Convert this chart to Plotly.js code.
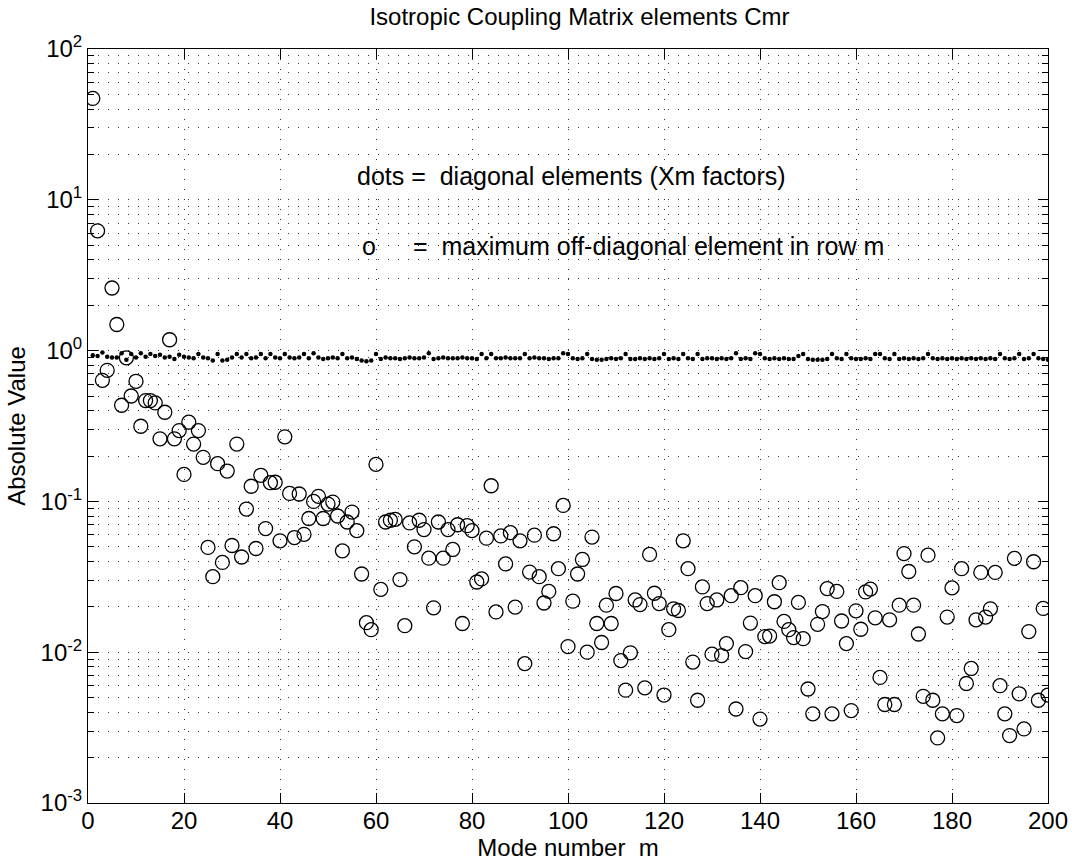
<!DOCTYPE html>
<html>
<head>
<meta charset="utf-8">
<script src="https://cdn.plot.ly/plotly-3.0.1.min.js"></script>
<style>html,body{margin:0;padding:0;background:#fff;}#chart{width:1072px;height:867px;}</style>
</head>
<body>
<div id="chart"></div>
<script>
// Mode numbers m = 1..200
const modeNumbers = Array.from({length: 200}, (_, i) => i + 1);

// Diagonal elements (Xm factors) - dots
const diagonalValues = [
  0.93,0.92,0.97,0.91,0.90,0.90,0.96,0.87,0.95,0.90, 0.96,0.91,0.95,0.92,0.94,0.90,0.91,0.88,0.94,0.91,
  0.90,0.89,0.95,0.90,0.89,0.86,0.95,0.86,0.87,0.90, 0.95,0.90,0.95,0.89,0.90,0.95,0.89,0.95,0.90,0.89,
  0.95,0.90,0.89,0.90,0.95,0.89,0.96,0.90,0.88,0.89, 0.90,0.89,0.95,0.89,0.90,0.88,0.86,0.85,0.86,0.95,
  0.88,0.90,0.89,0.89,0.88,0.89,0.90,0.89,0.89,0.90, 0.96,0.88,0.89,0.90,0.89,0.89,0.89,0.90,0.89,0.89,
  0.88,0.95,0.89,0.95,0.89,0.89,0.90,0.89,0.89,0.89, 0.95,0.89,0.90,0.89,0.89,0.88,0.89,0.89,0.96,0.95,
  0.89,0.88,0.89,0.95,0.88,0.87,0.87,0.88,0.89,0.88, 0.89,0.95,0.88,0.88,0.89,0.88,0.89,0.88,0.89,0.95,
  0.88,0.89,0.88,0.95,0.89,0.88,0.95,0.88,0.89,0.89, 0.88,0.89,0.88,0.89,0.96,0.88,0.89,0.88,0.96,0.95,
  0.89,0.88,0.89,0.88,0.89,0.88,0.88,0.92,0.95,0.88, 0.87,0.87,0.87,0.88,0.95,0.89,0.88,0.95,0.89,0.88,
  0.88,0.89,0.88,0.95,0.95,0.89,0.88,0.95,0.88,0.89, 0.88,0.89,0.88,0.89,0.95,0.89,0.88,0.89,0.88,0.89,
  0.88,0.89,0.88,0.89,0.88,0.89,0.88,0.89,0.88,0.95, 0.89,0.88,0.89,0.95,0.88,0.89,0.95,0.89,0.88,0.87
];

// Maximum off-diagonal element in row m - open circles
const offDiagonalMax = [
  47,6.23,0.635,0.74,2.6,1.49,0.434,0.895,0.50,0.626,
  0.315,0.466,0.466,0.45,0.26,0.39,1.18,0.26,0.295,0.151,
  0.335,0.24,0.295,0.196,0.0495,0.0317,0.178,0.0394,0.159,0.051,
  0.24,0.0428,0.089,0.126,0.0487,0.149,0.066,0.133,0.134,0.0548,
  0.268,0.113,0.0576,0.112,0.0605,0.077,0.1,0.108,0.077,0.096,
  0.099,0.08,0.047,0.073,0.085,0.064,0.033,0.0157,0.0141,0.176,
  0.0261,0.073,0.075,0.076,0.0303,0.0150,0.072,0.05,0.075,0.065,
  0.042,0.0197,0.073,0.042,0.065,0.048,0.07,0.0155,0.069,0.064,
  0.0292,0.0306,0.057,0.127,0.0185,0.059,0.0385,0.062,0.0199,0.0548,
  0.0084,0.034,0.0597,0.0317,0.0212,0.0253,0.061,0.0358,0.094,0.0109,
  0.0218,0.033,0.0412,0.0100,0.058,0.0155,0.0116,0.0205,0.0155,0.0245,
  0.0088,0.0056,0.0099,0.0222,0.0207,0.0058,0.0445,0.0246,0.021,0.0052,
  0.0141,0.0194,0.0189,0.0548,0.0358,0.0086,0.0048,0.0271,0.021,0.0097,
  0.0222,0.0095,0.0114,0.0237,0.0042,0.0268,0.0101,0.0156,0.0237,0.0036,
  0.0127,0.0128,0.0216,0.0289,0.016,0.0141,0.0125,0.0214,0.0123,0.0057,
  0.0039,0.0153,0.0186,0.0264,0.0039,0.0253,0.0161,0.0114,0.0041,0.0188,
  0.0142,0.0251,0.0262,0.0169,0.0068,0.0045,0.0164,0.0045,0.0205,0.0451,
  0.0343,0.0205,0.0132,0.0051,0.0440,0.0048,0.0027,0.0039,0.0171,0.0267,
  0.0038,0.0358,0.0062,0.0078,0.0164,0.0338,0.0171,0.0194,0.0338,0.0060,
  0.0039,0.0028,0.0419,0.0053,0.0031,0.0137,0.0398,0.0048,0.0195,0.0052
];

// Axis ticks
const xTickVals = [0,20,40,60,80,100,120,140,160,180,200];
const yTickVals = [1e-3,1e-2,1e-1,1,10,100];
const yTickText = ['10<sup>-3</sup>','10<sup>-2</sup>','10<sup>-1</sup>','10<sup>0</sup>','10<sup>1</sup>','10<sup>2</sup>'];
const yMinorVals = [];
for (let e = -3; e < 2; e++) for (let k = 2; k <= 9; k++) yMinorVals.push(k * Math.pow(10, e));

const FONT = 'Liberation Sans, Arial, Helvetica, sans-serif';
const GRIDDASH = '1px,9px';

const traces = [
  {
    x: modeNumbers, y: offDiagonalMax, type: 'scatter', mode: 'markers',
    marker: {symbol: 'circle-open', size: 14, color: '#000', line: {width: 1.3, color: '#000'}},
    hoverinfo: 'x+y'
  },
  {
    x: modeNumbers, y: diagonalValues, type: 'scatter', mode: 'markers',
    marker: {symbol: 'circle', size: 4.5, color: '#000'},
    hoverinfo: 'x+y'
  }
];

const layout = {
  width: 1072, height: 867,
  paper_bgcolor: '#fff', plot_bgcolor: '#fff',
  margin: {l: 88, r: 24, t: 49, b: 64},
  showlegend: false,
  font: {family: FONT, size: 24, color: '#000'},
  title: {
    text: 'Isotropic Coupling Matrix elements Cmr',
    font: {family: FONT, size: 24, color: '#000'},
    x: 0.512, xref: 'paper', xanchor: 'center',
    y: 0.981, yref: 'container', yanchor: 'middle'
  },
  xaxis: {
    range: [0, 200], tickvals: xTickVals, ticks: 'inside', ticklen: 10, tickcolor: '#000',
    showline: true, linecolor: '#000', linewidth: 1, mirror: 'ticks',
    showgrid: true, gridcolor: '#333', gridwidth: 1, griddash: GRIDDASH,
    zeroline: false, tickfont: {family: FONT, size: 24, color: '#000'},
    ticklabelstandoff: -4,
    title: {text: 'Mode number  m', font: {family: FONT, size: 24, color: '#000'}, standoff: 0}
  },
  yaxis: {
    type: 'log', range: [-3, 2], tickvals: yTickVals, ticktext: yTickText,
    ticks: 'inside', ticklen: 10, tickcolor: '#000',
    showline: true, linecolor: '#000', linewidth: 1, mirror: 'ticks',
    showgrid: true, gridcolor: '#333', gridwidth: 1, griddash: GRIDDASH,
    minor: {tickvals: yMinorVals, ticks: 'inside', ticklen: 6, tickcolor: '#000',
            showgrid: true, gridcolor: '#333', gridwidth: 1, griddash: GRIDDASH},
    zeroline: false, tickfont: {family: FONT, size: 24, color: '#000'},
    title: {text: 'Absolute Value', font: {family: FONT, size: 24, color: '#000'}, standoff: 8}
  },
  annotations: [
    {xref: 'paper', yref: 'paper', x: 0.278, y: 0.8316, xanchor: 'left', yanchor: 'middle',
     text: 'dots =\u00A0 diagonal elements (Xm factors)', showarrow: false,
     font: {family: FONT, size: 25, color: '#000'}},
    {xref: 'paper', yref: 'paper', x: 0.283, y: 0.7387, xanchor: 'left', yanchor: 'middle',
     text: 'o', showarrow: false, font: {family: FONT, size: 25, color: '#000'}},
    {xref: 'paper', yref: 'paper', x: 0.336, y: 0.7387, xanchor: 'left', yanchor: 'middle',
     text: '=\u00A0 maximum off-diagonal element in row m', showarrow: false,
     font: {family: FONT, size: 25, color: '#000'}}
  ]
};

Plotly.newPlot('chart', traces, layout, {staticPlot: true, displayModeBar: false});
</script>
</body>
</html>
